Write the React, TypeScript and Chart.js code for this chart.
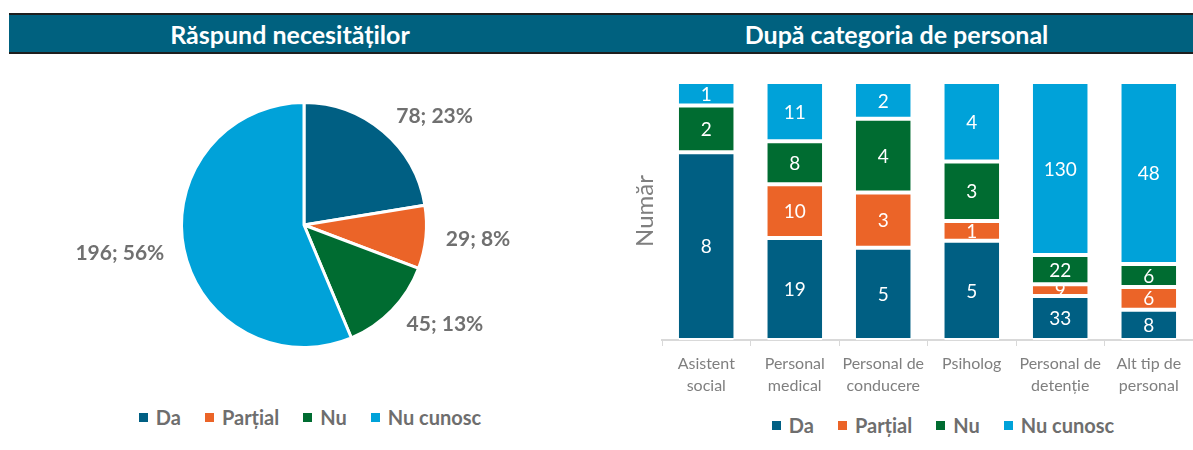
import React, { useEffect, useRef } from "react";
import { Chart, registerables } from "chart.js";

Chart.register(...registerables);

const FONT = "Lato, 'Noto Sans', sans-serif";

const pieTitle = "Răspund necesităților";
const barTitle = "După categoria de personal";

const seriesNames = ["Da", "Parțial", "Nu", "Nu cunosc"];
const seriesColors = ["#005F83", "#EB6428", "#006C31", "#00A2D9"];

const pieValues = [78, 29, 45, 196];
const piePercents = ["23%", "8%", "13%", "56%"];

const categories = [
  ["Asistent", "social"],
  ["Personal", "medical"],
  ["Personal de", "conducere"],
  ["Psiholog"],
  ["Personal de", "detenție"],
  ["Alt tip de", "personal"],
];
const daValues = [8, 19, 5, 5, 33, 8];
const partialValues = [0, 10, 3, 1, 9, 6];
const nuValues = [2, 8, 4, 3, 22, 6];
const nuCunoscValues = [1, 11, 2, 4, 130, 48];
const yAxisTitle = "Număr";

const rawSeries = [daValues, partialValues, nuValues, nuCunoscValues];
const totals = categories.map((_, i) => rawSeries.reduce((s, arr) => s + arr[i], 0));

const pieLabelPlugin = {
  id: "pieLabels",
  afterDraw(chart: any) {
    const ctx = chart.ctx;
    const meta = chart.getDatasetMeta(0);
    ctx.save();
    ctx.font = `bold 21px ${FONT}`;
    ctx.fillStyle = "#707070";
    ctx.textBaseline = "middle";
    meta.data.forEach((el: any, i: number) => {
      const { startAngle, endAngle, outerRadius, x, y } = el.getProps(
        ["startAngle", "endAngle", "outerRadius", "x", "y"],
        true
      );
      const mid = (startAngle + endAngle) / 2;
      const r = outerRadius + 20;
      const ax = x + Math.cos(mid) * r;
      const ay = y + Math.sin(mid) * r;
      ctx.textAlign = Math.cos(mid) >= 0 ? "left" : "right";
      ctx.fillText(`${pieValues[i]}; ${piePercents[i]}`, ax, ay);
    });
    ctx.restore();
  },
};

const barLabelPlugin = {
  id: "barLabels",
  afterDatasetsDraw(chart: any) {
    const ctx = chart.ctx;
    chart.data.datasets.forEach((_: any, di: number) => {
      const meta = chart.getDatasetMeta(di);
      meta.data.forEach((el: any, i: number) => {
        const raw = rawSeries[di][i];
        if (!raw) return;
        const { x, y, base, width } = el.getProps(["x", "y", "base", "width"], true);
        const top = Math.min(y, base);
        const h = Math.abs(base - y);
        ctx.save();
        ctx.beginPath();
        ctx.rect(x - width / 2, top, width, h);
        ctx.clip();
        ctx.fillStyle = "#ffffff";
        ctx.font = `19px ${FONT}`;
        ctx.textAlign = "center";
        ctx.textBaseline = "middle";
        ctx.fillText(String(raw), x, top + h / 2 + 1);
        ctx.restore();
      });
    });
  },
};

function PieChart() {
  const ref = useRef<HTMLCanvasElement>(null);
  useEffect(() => {
    const chart = new Chart(ref.current!, {
      type: "pie",
      data: {
        labels: seriesNames,
        datasets: [
          {
            data: pieValues,
            backgroundColor: seriesColors,
            borderColor: "#ffffff",
            borderWidth: 3,
          },
        ],
      },
      options: {
        animation: false,
        responsive: false,
        rotation: 0,
        layout: { padding: { top: 41, bottom: 41, left: 100, right: 100 } },
        plugins: { legend: { display: false }, tooltip: { enabled: false } },
      },
      plugins: [pieLabelPlugin],
    });
    return () => chart.destroy();
  }, []);
  return (
    <canvas
      ref={ref}
      width={608}
      height={330}
      style={{ position: "absolute", left: 0, top: 60, width: 608, height: 330 }}
    />
  );
}

function BarChart() {
  const ref = useRef<HTMLCanvasElement>(null);
  useEffect(() => {
    const chart = new Chart(ref.current!, {
      type: "bar",
      data: {
        labels: categories,
        datasets: rawSeries.map((arr, di) => ({
          label: seriesNames[di],
          data: arr.map((v, i) => (v / totals[i]) * 100),
          backgroundColor: seriesColors[di],
          borderColor: "#ffffff",
          borderWidth: { top: 2, bottom: 2, left: 0, right: 0 },
          borderSkipped: false,
          barPercentage: 0.62,
          categoryPercentage: 1,
        })),
      },
      options: {
        animation: false,
        responsive: false,
        layout: { padding: { top: 22, right: 0, left: 0, bottom: 0 } },
        plugins: { legend: { display: false }, tooltip: { enabled: false } },
        scales: {
          x: {
            stacked: true,
            afterFit: (s: any) => {
              s.height = 60;
            },
            grid: {
              display: true,
              drawOnChartArea: false,
              drawTicks: true,
              tickLength: 6,
              color: "#D9D9D9",
              lineWidth: 1,
            },
            border: { display: true, color: "#D9D9D9", width: 2 },
            ticks: {
              color: "#7F7F7F",
              font: { family: FONT, size: 16, lineHeight: 1.35 },
              padding: 7,
              maxRotation: 0,
              autoSkip: false,
            },
          },
          y: {
            stacked: true,
            min: 0,
            max: 100,
            afterFit: (s: any) => {
              s.width = 42;
            },
            grid: { display: false },
            border: { display: false },
            ticks: { display: false },
            title: {
              display: true,
              text: yAxisTitle,
              color: "#7F7F7F",
              font: { family: FONT, size: 24 },
              padding: { top: 11, bottom: 0 },
            },
          },
        },
      },
      plugins: [barLabelPlugin],
    });
    return () => chart.destroy();
  }, []);
  return (
    <canvas
      ref={ref}
      width={573}
      height={340}
      style={{ position: "absolute", left: 620, top: 60, width: 573, height: 340 }}
    />
  );
}

function TitleBar({ text, left, width, padRight }: any) {
  return (
    <div
      style={{
        position: "absolute",
        left,
        top: 13,
        width,
        height: 41,
        boxSizing: "border-box",
        background: "#00617F",
        borderTop: "2px solid #1E1E1E",
        borderBottom: "2px solid #1E1E1E",
        color: "#ffffff",
        fontFamily: FONT,
        fontWeight: 700,
        fontSize: 25,
        display: "flex",
        alignItems: "center",
        justifyContent: "center",
        paddingRight: padRight || 0,
      }}
    >
      {text}
    </div>
  );
}

function Legend({ left, top, width }: any) {
  return (
    <div
      style={{
        position: "absolute",
        left,
        top,
        width,
        height: 26,
        display: "flex",
        justifyContent: "center",
        alignItems: "center",
        fontFamily: FONT,
        fontWeight: 700,
        fontSize: 20,
        color: "#6E6E6E",
      }}
    >
      {seriesNames.map((n, i) => (
        <div
          key={n}
          style={{ display: "flex", alignItems: "center", marginLeft: i === 0 ? 0 : 24 }}
        >
          <span
            style={{
              display: "inline-block",
              width: 9,
              height: 9,
              background: seriesColors[i],
              marginRight: 8,
            }}
          />
          <span>{n}</span>
        </div>
      ))}
    </div>
  );
}

export default function App() {
  return (
    <div
      style={{
        position: "absolute",
        left: 0,
        top: 0,
        width: 1193,
        height: 450,
        background: "#ffffff",
        overflow: "hidden",
      }}
    >
      <TitleBar text={pieTitle} left={9} width={591} padRight={29} />
      <TitleBar text={barTitle} left={600} width={593} />
      <PieChart />
      <BarChart />
      <Legend left={0} top={404} width={620} />
      <Legend left={693} top={412} width={500} />
    </div>
  );
}
